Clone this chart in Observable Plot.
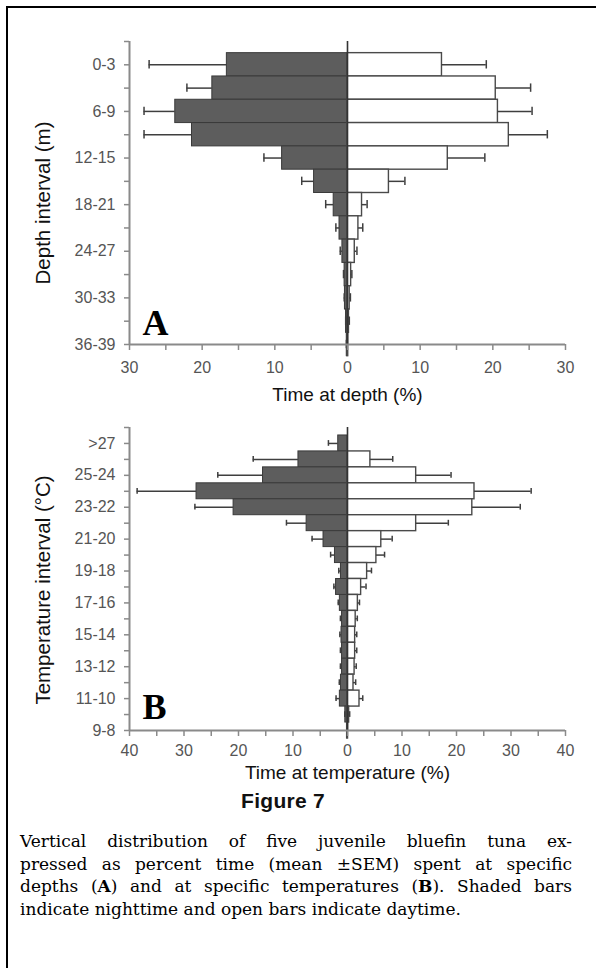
<!DOCTYPE html>
<html>
<head>
<meta charset="utf-8">
<script src="https://cdn.jsdelivr.net/npm/d3@7"></script>
<script src="https://cdn.jsdelivr.net/npm/@observablehq/plot@0.6"></script>
<style>
  html, body { margin: 0; padding: 0; background: #fff; width: 596px; height: 968px; overflow: hidden; }
  #frame { position: absolute; left: 6px; top: 6px; width: 640px; height: 1040px; border: 2.5px solid #000; box-sizing: border-box; }
  #chartA { position: absolute; left: 0; top: 0; }
  #chartB { position: absolute; left: 0; top: 410px; }
  #figtitle { position: absolute; left: 241px; top: 790px; white-space: nowrap; letter-spacing: 0.3px;
    font-family: "Liberation Sans", Arial, sans-serif; font-weight: 700; font-size: 21px; color: #111; line-height: 22px; }
  #caption { position: absolute; left: 20px; width: 552px; top: 830px;
    font-family: "DejaVu Serif", serif; font-size: 17px; line-height: 22.7px; color: #000; }
  #caption div { text-align: justify; text-align-last: justify; white-space: nowrap; }
  #caption div.last { text-align-last: left; }
</style>
</head>
<body>
<div id="frame"></div>
<div id="chartA"></div>
<div id="chartB"></div>
<div id="figtitle">Figure 7</div>
<div id="caption"></div>
<script>
// ---- Panel A: depth ----
const depthCats = ["0-3","3-6","6-9","9-12","12-15","15-18","18-21","21-24","24-27","27-30","30-33","33-36","36-39"];
const depthNight    = [16.6, 18.6, 23.7, 21.4, 9.0, 4.6, 1.9, 1.1, 0.7, 0.4, 0.35, 0.2, 0.1];
const depthNightSem = [10.7, 3.5, 4.3, 6.6, 2.5, 1.7, 1.1, 0.5, 0.3, 0.15, 0.1, 0.05, 0.05];
const depthDay      = [13.0, 20.4, 20.7, 22.2, 13.8, 5.7, 2.0, 1.5, 1.0, 0.5, 0.3, 0.2, 0.1];
const depthDaySem   = [6.1, 4.8, 4.7, 5.3, 5.1, 2.2, 0.7, 0.6, 0.3, 0.1, 0.1, 0.05, 0];

// ---- Panel B: temperature ----
const tempCats = [">27","26-25","25-24","24-23","23-22","22-21","21-20","20-19","19-18","18-17","17-16","16-15","15-14","14-13","13-12","12-11","11-10","10-9","9-8"];
const tempNight    = [1.7, 9.0, 15.5, 27.7, 20.9, 7.5, 4.4, 2.3, 1.2, 2.1, 1.4, 1.0, 1.1, 1.0, 1.0, 1.2, 1.4, 0.4, 0.1];
const tempNightSem = [1.8, 8.3, 8.3, 10.9, 7.1, 3.7, 2.1, 0.8, 0.4, 0.4, 0.3, 0.3, 0.3, 0.3, 0.3, 0.3, 0.7, 0.1, 0];
const tempDay      = [0, 4.2, 12.6, 23.3, 22.9, 12.6, 6.2, 5.3, 3.6, 2.5, 1.9, 1.5, 1.4, 1.4, 1.3, 1.1, 2.2, 0.3, 0.1];
const tempDaySem   = [0, 4.1, 6.4, 10.4, 8.8, 5.9, 2.0, 1.5, 0.8, 0.9, 0.3, 0.3, 0.3, 0.3, 0.3, 0.4, 0.6, 0.1, 0];

const xLabelA = "Time at depth (%)";
const yLabelA = "Depth interval (m)";
const xLabelB = "Time at temperature (%)";
const yLabelB = "Temperature interval (°C)";

const captionLines = [
  "Vertical distribution of five juvenile bluefin tuna ex-",
  "pressed as percent time (mean ±SEM) spent at specific",
  "depths (<b>A</b>) and at specific temperatures (<b>B</b>). Shaded bars",
  "indicate nighttime and open bars indicate daytime."
];

function panel(o) {
  const n = o.cats.length;
  const rows = o.cats.map((c, i) => ({i, c, n: o.night[i], ns: o.nightSem[i], d: o.day[i], ds: o.daySem[i]}));
  const nightErr = rows.filter(r => r.ns > 0);
  const dayErr = rows.filter(r => r.ds > 0 && r.d > 0);
  const cap = 0.18;
  const errStroke = "#3f3f3f";
  return Plot.plot({
    width: 596,
    height: o.height,
    marginLeft: 129,
    marginRight: 31,
    marginTop: o.marginTop,
    marginBottom: o.marginBottom,
    x: {domain: [-o.xmax, o.xmax]},
    y: {domain: [n - 1, -1]},
    style: {fontFamily: "'Liberation Sans', Arial, sans-serif", fontSize: "16px", background: "transparent", overflow: "visible"},
    marks: [
      Plot.rect(rows, {x1: 0, x2: r => -r.n, y1: r => r.i - 0.5, y2: r => r.i + 0.5, fill: "#5d5d5d", stroke: "#3a3a3a", strokeWidth: 1}),
      Plot.rect(rows.filter(r => r.d > 0), {x1: 0, x2: r => r.d, y1: r => r.i - 0.5, y2: r => r.i + 0.5, fill: "#fff", stroke: "#4a4a4a", strokeWidth: 1.4}),
      Plot.ruleY(nightErr, {y: "i", x1: r => -r.n, x2: r => -(r.n + r.ns), stroke: errStroke, strokeWidth: 1.5}),
      Plot.ruleX(nightErr, {x: r => -(r.n + r.ns), y1: r => r.i - cap, y2: r => r.i + cap, stroke: errStroke, strokeWidth: 1.5}),
      Plot.ruleY(dayErr, {y: "i", x1: r => r.d, x2: r => r.d + r.ds, stroke: errStroke, strokeWidth: 1.5}),
      Plot.ruleX(dayErr, {x: r => r.d + r.ds, y1: r => r.i - cap, y2: r => r.i + cap, stroke: errStroke, strokeWidth: 1.5}),
      Plot.ruleX([0], {y1: -1, y2: n - 1, stroke: "#333", strokeWidth: 1.6}),
      Plot.ruleX([-o.xmax], {y1: -1, y2: n - 1, stroke: "#8a8a8a", strokeWidth: 2}),
      Plot.ruleY([n - 1], {x1: -o.xmax, x2: o.xmax, stroke: "#8a8a8a", strokeWidth: 2}),
      Plot.axisY({
        ticks: d3.range(-1, n),
        tickFormat: i => (i >= 0 && i % 2 === 0) ? o.cats[i] : "",
        tickSize: 5, tickPadding: 9, stroke: "#8a8a8a", strokeWidth: 1.5, fill: "#555", fontSize: 16, label: null
      }),
      Plot.axisX({
        ticks: d3.range(-o.xmax, o.xmax + 1, 5),
        tickFormat: v => v % 10 === 0 ? String(Math.abs(v)) : "",
        tickSize: 6, tickPadding: o.xPad, stroke: "#8a8a8a", strokeWidth: 1.5, fill: "#555", fontSize: 16, label: null
      }),
      Plot.text([o.ylabel], {frameAnchor: "left", textAnchor: "middle", rotate: -90, dx: -86, dy: o.yTitleDy, fontSize: 20.5, fill: "#111"}),
      Plot.text([o.xlabel], {frameAnchor: "bottom", textAnchor: "middle", dy: o.titleDy, fontSize: 19, fill: "#111"}),
      Plot.text([o.letter], {frameAnchor: "bottom-left", dx: 13, dy: o.letterDy, textAnchor: "start", lineAnchor: "bottom",
        fontSize: 36, fontWeight: "bold", fontFamily: "'Liberation Serif', 'Times New Roman', serif", fill: "#000"})
    ]
  });
}

document.getElementById("chartA").append(panel({
  cats: depthCats, night: depthNight, nightSem: depthNightSem, day: depthDay, daySem: depthDaySem,
  xmax: 30, xlabel: xLabelA, ylabel: yLabelA, letter: "A",
  height: 410, marginTop: 41, marginBottom: 66, xPad: 11, titleDy: 56, letterDy: -10, yTitleDy: 10
}));

document.getElementById("chartB").append(panel({
  cats: tempCats, night: tempNight, nightSem: tempNightSem, day: tempDay, daySem: tempDaySem,
  xmax: 40, xlabel: xLabelB, ylabel: yLabelB, letter: "B",
  height: 400, marginTop: 17, marginBottom: 80, xPad: 8, titleDy: 48, letterDy: -12, yTitleDy: 11
}));

const capEl = document.getElementById("caption");
captionLines.forEach((t, k) => {
  const d = document.createElement("div");
  d.innerHTML = t;
  if (k === captionLines.length - 1) d.className = "last";
  capEl.append(d);
});
</script>
</body>
</html>
